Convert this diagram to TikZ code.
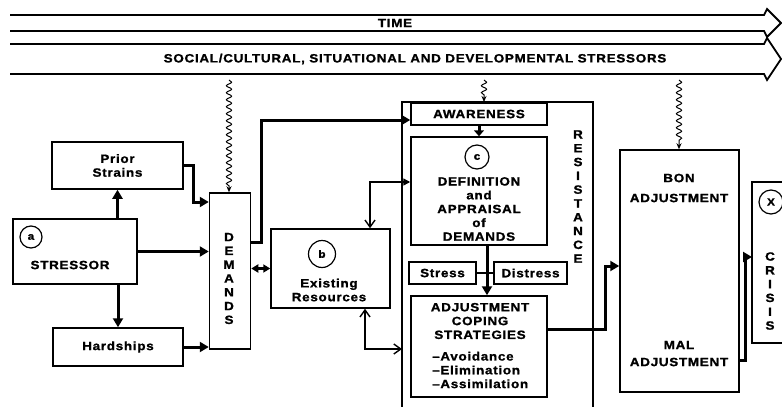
\documentclass[tikz,border=0pt]{standalone}
\usepackage{fontspec}
\setmainfont{Liberation Sans}[FakeStretch=1.12,LetterSpace=6,BoldFeatures={FakeBold=1.2}]
\usetikzlibrary{arrows.meta,decorations.pathmorphing}
\begin{document}
\begin{tikzpicture}[x=1pt,y=-1pt,
  box/.style={draw,line width=1.5pt,inner sep=0pt,fill=white},
  txt/.style={font=\bfseries\fontsize{12}{13.8}\selectfont,inner sep=0pt,align=center},
  lbl/.style={circle,draw,line width=1.2pt,inner sep=0pt,font=\bfseries\fontsize{10.5}{11}\selectfont},
  thk/.style={line width=3pt,-{Triangle[length=9pt,width=10pt]}},
  thn/.style={line width=1.4pt},
  wavy/.style={line width=1pt,-{Stealth[length=6pt,width=5pt]},decorate,
    decoration={snake,amplitude=2.6pt,segment length=7pt,post length=6pt}},
  band/.style={line width=1.8pt,line join=miter}
]
\useasboundingbox (0,0) rectangle (782,407);

% bands
\draw[band] (10,15) -- (764,15) -- (767,9) -- (781,23) -- (767,37) -- (764,31) -- (10,31);
\draw[band] (10,44) -- (764,44) -- (767,38) -- (781,59) -- (767,80) -- (764,74) -- (10,74);
\node[txt] (time) at (395,23) {TIME};
\node[txt] (social) at (415,59) {SOCIAL/CULTURAL, SITUATIONAL AND DEVELOPMENTAL STRESSORS};

% left boxes
\node[box,minimum width=131pt,minimum height=47pt,txt] (prior) at (117.5,165.5) {Prior\\Strains};
\node[box,minimum width=124pt,minimum height=65pt] (stressor) at (75,251.5) {};
\node[lbl,minimum size=22pt] (la) at (31,237) {a};
\node[txt] (stressortxt) at (70,265) {STRESSOR};
\node[box,minimum width=130pt,minimum height=38pt,txt] (hard) at (118,347) {Hardships};
\node[box,minimum width=41pt,minimum height=156pt] (demands) at (230,271) {};
\node[txt] (demandstxt) at (229,278.5) {D\\E\\M\\A\\N\\D\\S};

% resources
\node[box,minimum width=119pt,minimum height=79pt] (resources) at (330.5,268.5) {};
\node[lbl,minimum size=27pt] (lb) at (322,254) {b};
\node[txt] (restxt) at (329,290) {Existing\\Resources};

% resistance frame
\coordinate (rTL) at (402,102);
\coordinate (rTR) at (593,102);
\draw[thn] (402,407) -- (rTL) -- (rTR) -- (593,407);
\node[txt] (resisttxt) at (578,196.5) {R\\E\\S\\I\\S\\T\\A\\N\\C\\E};

\node[box,minimum width=136pt,minimum height=22pt,txt] (aware) at (479,114) {AWARENESS};
\node[box,minimum width=136pt,minimum height=108pt] (defin) at (479,191) {};
\node[lbl,minimum size=24pt] (lc) at (477,157) {c};
\node[txt] (defintxt) at (479,209) {DEFINITION\\and\\APPRAISAL\\of\\DEMANDS};
\node[box,minimum width=67pt,minimum height=22pt,txt] (stress) at (442.5,273) {Stress};
\node[box,minimum width=73pt,minimum height=22pt,txt] (distress) at (530.5,273) {Distress};
\node[box,minimum width=136pt,minimum height=101pt] (adjust) at (479,346.5) {};
\node[txt] (adjhead) at (480,321) {ADJUSTMENT\\COPING\\STRATEGIES};
\node[txt,align=left,anchor=west] (adjlist) at (432,370) {–Avoidance\\–Elimination\\–Assimilation};

% outcome
\node[box,minimum width=119pt,minimum height=242pt] (bon) at (679.5,271) {};
\node[txt] (bontxt1) at (679,178) {BON};
\node[txt] (bontxt2) at (679,198) {ADJUSTMENT};
\node[txt] (maltxt1) at (679,345) {MAL};
\node[txt] (maltxt2) at (679,362) {ADJUSTMENT};

% crisis
\coordinate (cTL) at (752,182);
\draw[box] (782,182) -- (cTL) -- (752,343) -- (782,343);
\node[lbl,minimum size=24pt] (lx) at (771,202) {X};
\node[txt] (crisistxt) at (770,291) {C\\R\\I\\S\\I\\S};

% wavy arrows
\coordinate (w1) at (229,80);
\coordinate (w2) at (484,80);
\coordinate (w3) at (679,80);
\draw[wavy] (w1) -- (w1 |- demands.north);
\draw[wavy] (w2) -- (w2 |- rTL);
\draw[wavy] (w3) -- (w3 |- bon.north);

% left connectors
\draw[thk] (prior.south |- stressor.north) -- (prior.south);
\draw[thk] (hard.north |- stressor.south) -- (hard.north);
\draw[thk] (stressor.east) -- (stressor.east -| demands.west);
\coordinate (p1) at (193,202);
\draw[thk] (prior.east) -| (p1) -- (p1 -| demands.west);
\draw[thk] (hard.east) -- (hard.east -| demands.west);
\coordinate (d1) at (261,242);
\coordinate (d2) at (261,120);
\draw[thk] (d1 -| demands.east) -- (d1) -- (d2) -- (d2 -| aware.west);
\draw[line width=2.4pt,{Triangle[length=7pt,width=8pt]}-{Triangle[length=7pt,width=8pt]}] (resources.west) -- (resources.west -| demands.east);

% resources connectors
\coordinate (e1) at (370,182);
\draw[thn,{Straight Barb[length=7pt,width=10pt]}-{Triangle[length=7pt,width=7pt]}] (e1 |- resources.north) -- (e1) -- (e1 -| defin.west);
\coordinate (e2) at (365,349);
\draw[thn,{Straight Barb[length=7pt,width=10pt]}-{Straight Barb[length=7pt,width=10pt]}] (e2 |- resources.south) -- (e2) -- (e2 -| rTL);

% inner connectors
\draw[line width=3pt,-{Triangle[length=6pt,width=10pt]}] (aware.south) -- (defin.north);
\draw[thn] (stress.east) -- (distress.west);
\coordinate (f1) at (487,250);
\draw[thk] (f1 |- defin.south) -- (f1 |- adjust.north);

% outcome connectors
\coordinate (g1) at (605,329);
\coordinate (g2) at (605,266);
\draw[thk] (g1 -| adjust.east) -- (g1) -- (g2) -- (g2 -| bon.west);
\coordinate (h1) at (745,360);
\coordinate (h2) at (745,257);
\draw[thk] (h1 -| bon.east) -- (h1) -- (h2) -- (h2 -| cTL);
\end{tikzpicture}
\end{document}
